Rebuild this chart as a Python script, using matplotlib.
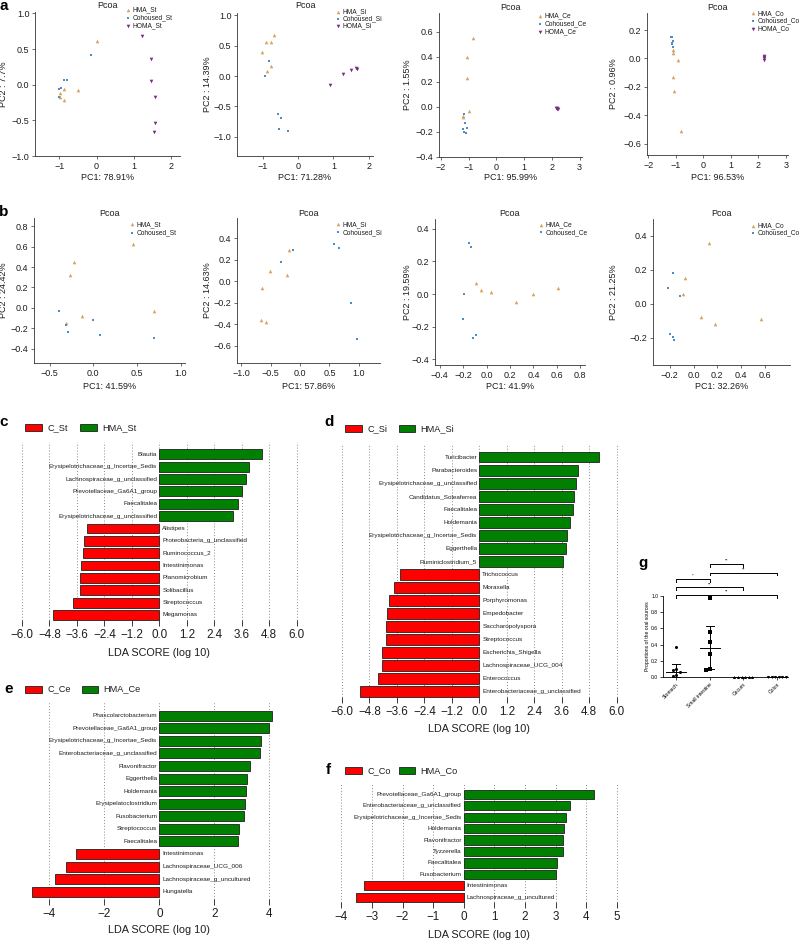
import numpy as np
import matplotlib
matplotlib.use('Agg')
import matplotlib.pyplot as plt
from matplotlib.lines import Line2D
from matplotlib.patches import Rectangle
from matplotlib import font_manager

# ---------------- DATA ----------------
# Panel a (PCoA, three groups)
a_St_HMA_x = [0.0, -0.5, -0.88, -0.97, -0.88, -0.98]
a_St_HMA_y = [0.62, -0.07, -0.06, -0.12, -0.22, -0.17]
a_St_Co_x = [-0.14, -0.86, -0.80, -1.0, -0.95, -1.0]
a_St_Co_y = [0.42, 0.07, 0.06, -0.06, -0.05, -0.17]
a_St_HO_x = [1.23, 1.46, 1.45, 1.57, 1.56, 1.55]
a_St_HO_y = [0.68, 0.36, 0.05, -0.17, -0.54, -0.67]

a_Si_HMA_x = [-0.68, -0.92, -0.77, -1.03, -0.77, -0.87]
a_Si_HMA_y = [0.67, 0.56, 0.56, 0.39, 0.165, 0.09]
a_Si_Co_x = [-0.81, -0.93, -0.58, -0.49, -0.53, -0.30]
a_Si_Co_y = [0.25, 0.0, -0.63, -0.70, -0.88, -0.91]
a_Si_HO_x = [0.90, 1.28, 1.51, 1.64, 1.66]
a_Si_HO_y = [-0.15, 0.03, 0.10, 0.13, 0.12]

a_Ce_HMA_x = [-0.85, -1.05, -1.07, -1.0, -1.19, -1.21]
a_Ce_HMA_y = [0.55, 0.40, 0.23, -0.03, -0.07, -0.08]
a_Ce_Co_x = [-1.17, -1.13, -1.21, -1.15, -1.07, -1.08]
a_Ce_Co_y = [-0.06, -0.13, -0.18, -0.20, -0.17, -0.21]
a_Ce_HO_x = [2.15, 2.20, 2.18, 2.21]
a_Ce_HO_y = [-0.005, -0.02, -0.01, -0.015]

a_Co_HMA_x = [-1.11, -1.09, -0.94, -1.11, -1.07, -0.82]
a_Co_HMA_y = [0.04, 0.06, -0.01, -0.13, -0.23, -0.51]
a_Co_Co_x = [-1.19, -1.15, -1.15, -1.13, -1.09, -1.11]
a_Co_Co_y = [0.15, 0.15, 0.11, 0.105, 0.12, 0.08]
a_Co_HO_x = [2.20, 2.22, 2.19, 2.21]
a_Co_HO_y = [0.0, 0.02, -0.01, 0.01]

# Panel b (PCoA, two groups)
b_St_HMA_x = [0.45, -0.22, -0.27, -0.13, -0.31, 0.70]
b_St_HMA_y = [0.63, 0.45, 0.32, -0.075, -0.145, -0.03]
b_St_Co_x = [-0.39, -0.31, -0.29, 0.0, 0.08, 0.69]
b_St_Co_y = [-0.03, -0.17, -0.24, -0.12, -0.27, -0.30]

b_Si_HMA_x = [-0.18, -0.51, -0.22, -0.64, -0.67, -0.58]
b_Si_HMA_y = [0.29, 0.10, 0.06, -0.06, -0.36, -0.38]
b_Si_Co_x = [-0.12, -0.32, 0.57, 0.66, 0.86, 0.97]
b_Si_Co_y = [0.29, 0.18, 0.35, 0.31, -0.20, -0.54]

b_Ce_HMA_x = [-0.09, -0.05, 0.04, 0.25, 0.40, 0.61]
b_Ce_HMA_y = [0.07, 0.027, 0.01, -0.05, 0.0, 0.037]
b_Ce_Co_x = [-0.15, -0.13, -0.19, -0.20, -0.12, -0.09]
b_Ce_Co_y = [0.31, 0.29, 0.0, -0.15, -0.27, -0.25]

b_Co_HMA_x = [0.134, -0.07, -0.09, 0.064, 0.18, 0.57]
b_Co_HMA_y = [0.357, 0.15, 0.06, -0.08, -0.12, -0.087]
b_Co_Co_x = [-0.17, -0.21, -0.11, -0.20, -0.17, -0.16]
b_Co_Co_y = [0.18, 0.095, 0.045, -0.175, -0.195, -0.215]

pc1_a = ["PC1: 78.91%", "PC1: 71.28%", "PC1: 95.99%", "PC1: 96.53%"]
pc2_a = ["PC2 : 7.7%", "PC2 : 14.39%", "PC2 : 1.55%", "PC2 : 0.96%"]
pc1_b = ["PC1: 41.59%", "PC1: 57.86%", "PC1: 41.9%", "PC1: 32.26%"]
pc2_b = ["PC2 : 24.42%", "PC2 : 14.63%", "PC2 : 19.59%", "PC2 : 21.25%"]

# Panel c-f (LEfSe)
c_names = ["Blautia", "Erysipelotrichaceae_g_Incertae_Sedis", "Lachnospiraceae_g_unclassified",
           "Prevotellaceae_Ga6A1_group", "Faecalitalea", "Erysipelotrichaceae_g_unclassified",
           "Alistipes", "Proteobacteria_g_unclassified", "Ruminococcus_2", "Intestinimonas",
           "Planomicrobium", "Solibacillus", "Streptococcus", "Megamonas"]
c_vals = [4.49, 3.93, 3.77, 3.59, 3.43, 3.21, -3.14, -3.27, -3.35, -3.40, -3.45, -3.46, -3.75, -4.65]

d_names = ["Turicibacter", "Parabacteroides", "Erysipelotrichaceae_g_unclassified",
           "Candidatus_Soleaferrea", "Faecalitalea", "Holdemania",
           "Erysipelotrichaceae_g_Incertae_Sedis", "Eggerthella", "Ruminiclostridium_5",
           "Trichococcus", "Moraxella", "Porphyromonas", "Empedobacter", "Saccharopolyspora",
           "Streptococcus", "Escherichia_Shigella", "Lachnospiraceae_UCG_004", "Enterococcus",
           "Enterobacteriaceae_g_unclassified"]
d_vals = [5.22, 4.29, 4.20, 4.13, 4.10, 3.96, 3.81, 3.78, 3.64,
          -3.48, -3.71, -3.93, -4.04, -4.07, -4.09, -4.24, -4.26, -4.44, -5.20]

e_names = ["Phascolarctobacterium", "Prevotellaceae_Ga6A1_group", "Erysipelotrichaceae_g_Incertae_Sedis",
           "Enterobacteriaceae_g_unclassified", "Flavonifractor", "Eggerthella", "Holdemania",
           "Erysipelatoclostridium", "Fusobacterium", "Streptococcus", "Faecalitalea",
           "Intestinimonas", "Lachnospiraceae_UCG_006", "Lachnospiraceae_g_uncultured", "Hungatella"]
e_vals = [4.08, 4.00, 3.68, 3.66, 3.31, 3.19, 3.14, 3.10, 3.07, 2.88, 2.86, -3.04, -3.39, -3.78, -4.62]

f_names = ["Prevotellaceae_Ga6A1_group", "Enterobacteriaceae_g_unclassified",
           "Erysipelotrichaceae_g_Incertae_Sedis", "Holdemania", "Flavonifractor", "Tyzzerella",
           "Faecalitalea", "Fusobacterium", "Intestinimonas", "Lachnospiraceae_g_uncultured"]
f_vals = [4.26, 3.49, 3.33, 3.28, 3.23, 3.23, 3.06, 3.03, -3.27, -3.53]

cd_ticks = [-6.0, -4.8, -3.6, -2.4, -1.2, 0.0, 1.2, 2.4, 3.6, 4.8, 6.0]
e_ticks = [-4, -2, 0, 2, 4]
f_ticks = [-4, -3, -2, -1, 0, 1, 2, 3, 4, 5]

# Panel g
g_categories = ["Stomach", "Small intestine", "Cecum", "Colon"]
g_stomach = [0.37, 0.10, 0.09, 0.06, 0.02, 0.01]
g_small_int = [0.97, 0.55, 0.43, 0.28, 0.10, 0.09]
g_cecum = [0.0, 0.0, 0.0, 0.0, 0.0, 0.0]
g_colon = [0.0, 0.0, 0.0, 0.0, 0.0, 0.0]
g_median = [0.06, 0.36, 0.0, 0.0]
g_q1 = [0.0, 0.10, 0.0, 0.0]
g_q3 = [0.16, 0.63, 0.0, 0.0]
g_sig = [(1, 2, 1.395, "**"), (1, 3, 1.29, "**"), (0, 1, 1.21, "*"), (0, 2, 1.11, "**"), (0, 3, 1.015, "**")]

# ---------------- STYLE / LAYOUT ----------------
W, H = 799, 942
fig = plt.figure(figsize=(W / 100, H / 100), dpi=100)
names_avail = {f.name for f in font_manager.fontManager.ttflist}
SANS = 'Liberation Sans' if 'Liberation Sans' in names_avail else 'DejaVu Sans'
if 'Liberation Sans Narrow' in names_avail:
    NARROW = 'Liberation Sans Narrow'
    FS_BAR, FS_TICK, FS_XLAB, FS_LEG = 5.6, 9.5, 10, 8
else:
    NARROW = SANS
    FS_BAR, FS_TICK, FS_XLAB, FS_LEG = 4.6, 8.4, 7.8, 6.6
plt.rcParams['font.family'] = [SANS, 'DejaVu Sans']
plt.rcParams['axes.unicode_minus'] = True

COL_HMA = '#D9A35E'
COL_CO = '#4C8CC8'
COL_HO = '#7B2B88'
TXT = '#1e1e1e'


def add_ax(x0, y0, x1, y1):
    return fig.add_axes([x0 / W, 1 - y1 / H, (x1 - x0) / W, (y1 - y0) / H])


def ftext(x, y, s, **kw):
    return fig.text(x / W, 1 - y / H, s, **kw)


def fmt(v, d):
    s = f'{abs(v):.{d}f}'
    return ('\u2212' if v < -1e-9 else '') + s


def fig_marker(x, y, marker, color, ms):
    fig.add_artist(Line2D([x / W], [1 - y / H], marker=marker, color=color, ms=ms,
                          mew=0, ls='none', transform=fig.transFigure))


MK = {'HMA': ('^', COL_HMA, 2.6), 'Cohoused': ('s', COL_CO, 1.8), 'HOMA': ('v', COL_HO, 2.6)}


def pcoa(box, xlim, ylim, xt, xd, yt, yd, groups, site, xlabel, ylabel, ylab_x, xlab_y,
         title_y, leg_mx, leg_ys):
    ax = add_ax(*box)
    for key, gx, gy in groups:
        m, c, ms = MK[key]
        ax.plot(gx, gy, ls='none', marker=m, color=c, ms=ms, mew=0, clip_on=False)
    ax.set_xlim(xlim)
    ax.set_ylim(ylim)
    ax.set_xticks(xt)
    ax.set_xticklabels([fmt(v, xd) for v in xt])
    ax.set_yticks(yt)
    ax.set_yticklabels([fmt(v, yd) for v in yt])
    for s in ['top', 'right']:
        ax.spines[s].set_visible(False)
    for s in ['left', 'bottom']:
        ax.spines[s].set_linewidth(0.6)
        ax.spines[s].set_color('#333333')
    ax.tick_params(length=2.5, width=0.5, pad=1.5, labelsize=6.5, colors='#333333',
                   labelcolor=TXT)
    x0, y0, x1, y1 = box
    xc = (x0 + x1) / 2
    ftext(xc, xlab_y, xlabel, ha='center', va='center', fontsize=6.5, color=TXT)
    ftext(ylab_x, (y0 + y1) / 2, ylabel, ha='center', va='center', rotation=90,
          fontsize=6.5, color=TXT)
    ftext(xc, title_y, 'Pcoa', ha='center', va='center', fontsize=6.5, color=TXT)
    labels = {'HMA': 'HMA_' + site, 'Cohoused': 'Cohoused_' + site, 'HOMA': 'HOMA_' + site}
    for (key, _, _), ly in zip(groups, leg_ys):
        m, c, ms = MK[key]
        fig_marker(leg_mx, ly, m, c, ms)
        ftext(leg_mx + 4.5, ly, labels[key], ha='left', va='center', fontsize=4.8, color=TXT)
    return ax


# ---- Panel a ----
pcoa((35, 12, 180, 156), (-1.65, 2.24), (-1.0, 1.02), [-1, 0, 1, 2], 0,
     [-1.0, -0.5, 0.0, 0.5, 1.0], 1,
     [('HMA', a_St_HMA_x, a_St_HMA_y), ('Cohoused', a_St_Co_x, a_St_Co_y), ('HOMA', a_St_HO_x, a_St_HO_y)],
     'St', pc1_a[0], pc2_a[0], 4, 178, 6, 128, [10, 18, 26])
pcoa((237, 13, 373, 156), (-1.73, 2.12), (-1.32, 1.04), [-1, 0, 1, 2], 0,
     [-1.0, -0.5, 0.0, 0.5, 1.0], 1,
     [('HMA', a_Si_HMA_x, a_Si_HMA_y), ('Cohoused', a_Si_Co_x, a_Si_Co_y), ('HOMA', a_Si_HO_x, a_Si_HO_y)],
     'Si', pc1_a[1], pc2_a[1], 207, 178, 6, 338, [11.5, 18.8, 26])
pcoa((439, 13, 582, 157), (-2.07, 3.09), (-0.40, 0.75), [-2, -1, 0, 1, 2, 3], 0,
     [-0.4, -0.2, 0.0, 0.2, 0.4, 0.6], 1,
     [('HMA', a_Ce_HMA_x, a_Ce_HMA_y), ('Cohoused', a_Ce_Co_x, a_Ce_Co_y), ('HOMA', a_Ce_HO_x, a_Ce_HO_y)],
     'Ce', pc1_a[2], pc2_a[2], 408, 178, 7, 540, [15.7, 24, 32])
pcoa((647, 13, 788, 155), (-2.05, 3.08), (-0.68, 0.32), [-2, -1, 0, 1, 2, 3], 0,
     [-0.6, -0.4, -0.2, 0.0, 0.2], 1,
     [('HMA', a_Co_HMA_x, a_Co_HMA_y), ('Cohoused', a_Co_Co_x, a_Co_Co_y), ('HOMA', a_Co_HO_x, a_Co_HO_y)],
     'Co', pc1_a[3], pc2_a[3], 613, 178, 7, 752.7, [13.3, 21, 29])

# ---- Panel b ----
pcoa((34, 218, 185, 363), (-0.68, 1.05), (-0.54, 0.88), [-0.5, 0.0, 0.5, 1.0], 1,
     [-0.4, -0.2, 0.0, 0.2, 0.4, 0.6, 0.8], 1,
     [('HMA', b_St_HMA_x, b_St_HMA_y), ('Cohoused', b_St_Co_x, b_St_Co_y)],
     'St', pc1_b[0], pc2_b[0], 4, 386.7, 213, 131.7, [224.3, 232.7])
pcoa((237, 218, 380, 363), (-1.07, 1.36), (-0.76, 0.59), [-1.0, -0.5, 0.0, 0.5, 1.0], 1,
     [-0.6, -0.4, -0.2, 0.0, 0.2, 0.4], 1,
     [('HMA', b_Si_HMA_x, b_Si_HMA_y), ('Cohoused', b_Si_Co_x, b_Si_Co_y)],
     'Si', pc1_b[1], pc2_b[1], 207, 386.7, 213, 338, [224.3, 232.3])
pcoa((435, 219, 585, 365), (-0.44, 0.84), (-0.435, 0.46), [-0.4, -0.2, 0.0, 0.2, 0.4, 0.6, 0.8], 1,
     [-0.4, -0.2, 0.0, 0.2, 0.4], 1,
     [('HMA', b_Ce_HMA_x, b_Ce_HMA_y), ('Cohoused', b_Ce_Co_x, b_Ce_Co_y)],
     'Ce', pc1_b[2], pc2_b[2], 407, 386.7, 213, 540.7, [225, 232.3])
pcoa((653, 219, 790, 365), (-0.34, 0.81), (-0.36, 0.50), [-0.2, 0.0, 0.2, 0.4, 0.6], 1,
     [-0.2, 0.0, 0.2, 0.4], 1,
     [('HMA', b_Co_HMA_x, b_Co_HMA_y), ('Cohoused', b_Co_Co_x, b_Co_Co_y)],
     'Co', pc1_b[3], pc2_b[3], 613, 386.7, 213, 752.7, [225.7, 232.7])

# ---------------- LEfSe panels ----------------
RED = '#FF0000'
GREEN = '#008000'
NFAM = [NARROW, 'DejaVu Sans']


def lefse(box, xlim, ylim, ticks, tick_dec, names_, vals, leg_y, leg_red_x, leg_green_x, site,
          lab_y):
    ax = add_ax(*box)
    y = -np.arange(len(vals))
    cols = [GREEN if v > 0 else RED for v in vals]
    ax.barh(y, vals, height=0.8, color=cols, edgecolor='#202020', linewidth=0.6, zorder=2)
    for yi, v, n in zip(y, vals, names_):
        if v > 0:
            ax.annotate(n, (0, yi), xytext=(-1.5, 0), textcoords='offset points', ha='right',
                        va='center', fontsize=FS_BAR, family=NFAM, color=TXT)
        else:
            ax.annotate(n, (0, yi), xytext=(2.2, 0), textcoords='offset points', ha='left',
                        va='center', fontsize=FS_BAR, family=NFAM, color=TXT)
    ax.set_xlim(xlim)
    ax.set_ylim(ylim)
    ax.set_yticks([])
    ax.set_xticks(ticks)
    ax.set_xticklabels([fmt(t, tick_dec) for t in ticks], family=NFAM)
    ax.grid(axis='x', linestyle=(0, (1, 2)), color='#8a8a8a', linewidth=0.7, zorder=0)
    ax.set_axisbelow(True)
    for s in ax.spines.values():
        s.set_visible(False)
    ax.tick_params(axis='x', direction='in', length=4, width=0.6, labelsize=FS_TICK, pad=2.5,
                   colors='#222222', labelcolor=TXT)
    x0, y0, x1, y1 = box
    ftext((x0 + x1) / 2, lab_y, 'LDA SCORE (log 10)', ha='center', va='center',
          fontsize=FS_XLAB, family=NFAM, color=TXT)
    # legend
    for (lx, col, lab) in [(leg_red_x, RED, 'C_' + site), (leg_green_x, GREEN, 'HMA_' + site)]:
        fig.add_artist(Rectangle((lx / W, 1 - (leg_y + 3.5) / H), 16.5 / W, 7 / H,
                                 transform=fig.transFigure, facecolor=col, edgecolor='#202020',
                                 linewidth=0.6))
        ftext(lx + 22, leg_y, lab, ha='left', va='center', fontsize=FS_LEG, family=NFAM,
              color=TXT)
    return ax


# c: zero at x=159.3 px, 22.9 px/unit; bars top 454.3, spacing 12.36
lefse((15, 441.7, 303.6, 626), (-6.3, 6.3), (-13.89, 1.02), cd_ticks, 1, c_names, c_vals,
      428, 25, 80, 'St', 653.3)
# d: zero at 479.3 px
lefse((335, 444, 623.6, 703), (-6.3, 6.3), (-18.87, 1.02), cd_ticks, 1, d_names, d_vals,
      428.3, 345, 398.5, 'Si', 729.3)
# e: zero at 159.3 px, 27.5 px/unit
lefse((27.3, 702.3, 291.3, 905), (-4.8, 4.8), (-15.06, 1.07), e_ticks, 0, e_names, e_vals,
      689, 25, 81.7, 'Ce', 930)
# f: zero at 464 px, 30.6 px/unit
lefse((326, 783, 632, 908), (-4.5, 5.5), (-9.94, 0.99), f_ticks, 0, f_names, f_vals,
      770.5, 345, 398.5, 'Co', 935)

# ---------------- Panel g ----------------
axg = add_ax(663, 596, 788, 677)
axg.set_xlim(-0.39, 3.33)
axg.set_ylim(0, 1.0)


def swarm(vals, dx=0.107, dy=0.045):
    placed = []
    offs = []
    cands = [0]
    for k in range(1, 6):
        cands += [-k * dx, k * dx]
    for v in vals:
        for c in cands:
            if all(not (abs(c - pc) < dx * 0.9 and abs(v - pv) < dy) for pc, pv in placed):
                placed.append((c, v))
                offs.append(c)
                break
    return np.array(offs)


def swarm_zero(vals, dx=0.107):
    n = len(vals)
    return (np.arange(n) - (n - 1) / 2) * dx


g_series = [(g_stomach, 'o', 2.2), (g_small_int, 's', 2.2), (g_cecum, '^', 2.2), (g_colon, 'v', 2.2)]
for i, (vals, mk, ms) in enumerate(g_series):
    vals = np.array(vals)
    offs = swarm_zero(vals) if np.allclose(vals, 0) else swarm(vals)
    axg.plot(i + offs, vals, ls='none', marker=mk, color='black', ms=ms, mew=0, clip_on=False,
             zorder=3)
    axg.plot([i - 0.3, i + 0.3], [g_median[i]] * 2, color='black', lw=0.7, clip_on=False)
    axg.plot([i, i], [g_q1[i], g_q3[i]], color='black', lw=0.7, clip_on=False)
    axg.plot([i - 0.12, i + 0.12], [g_q3[i]] * 2, color='black', lw=0.7, clip_on=False)
    axg.plot([i - 0.12, i + 0.12], [g_q1[i]] * 2, color='black', lw=0.7, clip_on=False)

for (i, j, h, lab) in g_sig:
    axg.plot([i, i, j, j], [h - 0.035, h, h, h - 0.035], color='black', lw=0.7, clip_on=False)
    axg.text((i + j) / 2, h + 0.01, lab, ha='center', va='bottom', fontsize=3.2, color='black')

axg.set_xticks(range(len(g_categories)))
axg.set_xticklabels(g_categories, rotation=45, ha='right', rotation_mode='anchor', fontsize=3.6)
axg.set_yticks([0.0, 0.2, 0.4, 0.6, 0.8, 1.0])
axg.set_yticklabels([fmt(v, 1) for v in [0.0, 0.2, 0.4, 0.6, 0.8, 1.0]], fontsize=3.6)
for s in ['top', 'right']:
    axg.spines[s].set_visible(False)
for s in ['left', 'bottom']:
    axg.spines[s].set_linewidth(0.6)
axg.tick_params(length=2, width=0.5, pad=1.5)
ftext(647, 636.5, 'Proportions of the oral sources', rotation=90, ha='center', va='center',
      fontsize=3.6)

# ---------------- Panel letters ----------------
for (lx, ly, L) in [(4, 6, 'a'), (4, 212, 'b'), (4, 422, 'c'), (329, 422, 'd'), (9, 689, 'e'),
                    (328, 770, 'f'), (643, 563, 'g')]:
    ftext(lx, ly, L, ha='center', va='center', fontsize=11, fontweight='bold', color='black',
          family=[SANS, 'DejaVu Sans'])

fig.savefig('out.png', dpi=100)
